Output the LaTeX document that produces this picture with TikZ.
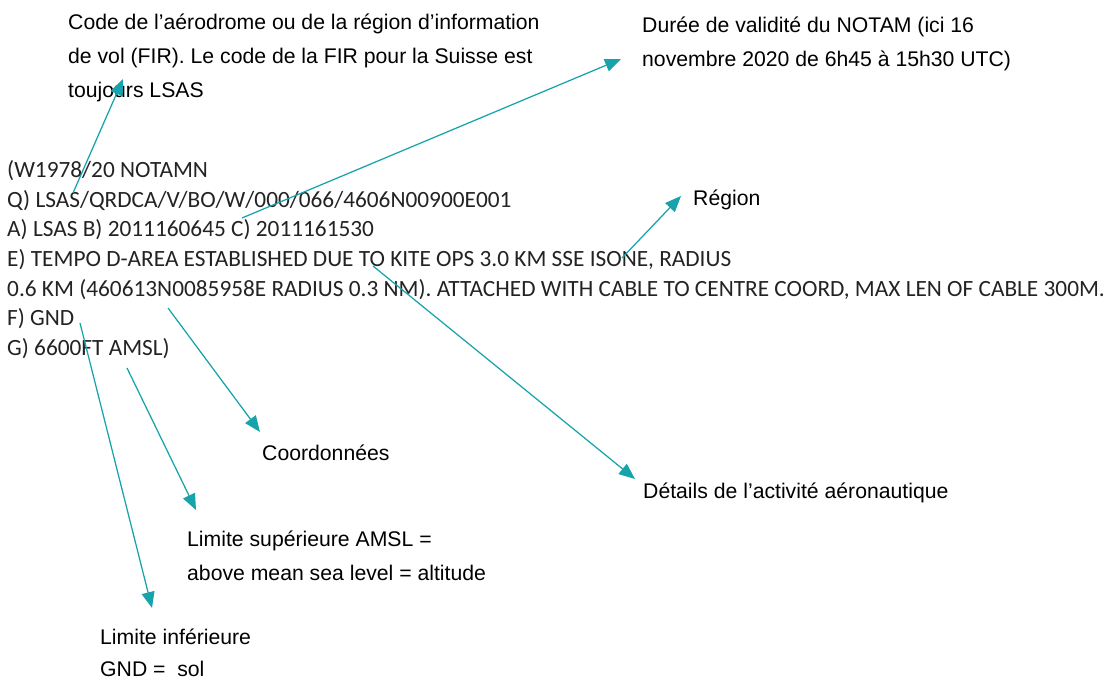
\documentclass[tikz,border=0pt]{standalone}
\usepackage{fontspec}
\setmainfont{Liberation Sans}
\newfontfamily\notamfont{Carlito}
\usetikzlibrary{arrows.meta}
\definecolor{arrowteal}{RGB}{23,163,171}
\definecolor{notamtext}{RGB}{35,35,35}
\begin{document}
\begin{tikzpicture}[x=1pt,y=-1pt,
  lbl/.style={anchor=base west,inner sep=0pt,font=\fontsize{21.2}{25}\selectfont},
  code/.style={anchor=base west,inner sep=0pt,text=notamtext,font=\notamfont\fontsize{23.3}{28}\selectfont},
  ptr/.style={draw=arrowteal,line width=1.25pt,-{Triangle[length=16pt,width=13pt]}}]
\useasboundingbox (0,0) rectangle (1110,680);
% NOTAM text
\node[code] (n1) at (7,177) {(W1978/20 NOTAMN};
\node[code] (n2) at (7,207) {Q) LSAS/QRDCA/V/BO/W/000/066/4606N00900E001};
\node[code] (n3) at (7,236) {A) LSAS B) 2011160645 C) 2011161530};
\node[code] (n4) at (7,266) {E) TEMPO D-AREA ESTABLISHED DUE TO KITE OPS 3.0 KM SSE ISONE, RADIUS};
\node[code] (n5) at (7,296) {0.6 KM (460613N0085958E RADIUS 0.3 NM). ATTACHED WITH CABLE TO CENTRE COORD, MAX LEN OF CABLE 300M.};
\node[code] (n6) at (7,325) {F) GND};
\node[code] (n7) at (7,355) {G) 6600FT AMSL)};
% labels
\node[lbl] (c1) at (68,29) {Code de l’aérodrome ou de la région d’information};
\node[lbl] (c2) at (68,63) {de vol (FIR). Le code de la FIR pour la Suisse est};
\node[lbl] (c3) at (68,97) {toujours LSAS};
\node[lbl] (d1) at (642,32) {Durée de validité du NOTAM (ici 16};
\node[lbl] (d2) at (642,66) {novembre 2020 de 6h45 à 15h30 UTC)};
\node[lbl] (r1) at (693,205) {Région};
\node[lbl] (a1) at (643,498) {Détails de l’activité aéronautique};
\node[lbl] (k1) at (262,460) {Coordonnées};
\node[lbl] (s1) at (187,546) {Limite supérieure AMSL =};
\node[lbl] (s2) at (187,580) {above mean sea level = altitude};
\node[lbl] (i1) at (100,644) {Limite inférieure};
\node[lbl] (i2) at (100,676) {GND =\ \ sol};
% arrow end points
\coordinate (fromFIR) at (73,193);   \coordinate (toFIR) at (123,79);
\coordinate (fromVal) at (242,218);  \coordinate (toVal) at (621,59);
\coordinate (fromReg) at (622,258);  \coordinate (toReg) at (681,196);
\coordinate (fromAct) at (373,266);  \coordinate (toAct) at (635,479);
\coordinate (fromCrd) at (168,308);  \coordinate (toCrd) at (260,432);
\coordinate (fromSup) at (127,368);  \coordinate (toSup) at (196,510);
\coordinate (fromInf) at (80,323);   \coordinate (toInf) at (152,608);
\draw[ptr] (fromFIR) -- (toFIR);
\draw[ptr] (fromVal) -- (toVal);
\draw[ptr] (fromReg) -- (toReg);
\draw[ptr] (fromAct) -- (toAct);
\draw[ptr] (fromCrd) -- (toCrd);
\draw[ptr] (fromSup) -- (toSup);
\draw[ptr] (fromInf) -- (toInf);
\end{tikzpicture}
\end{document}
